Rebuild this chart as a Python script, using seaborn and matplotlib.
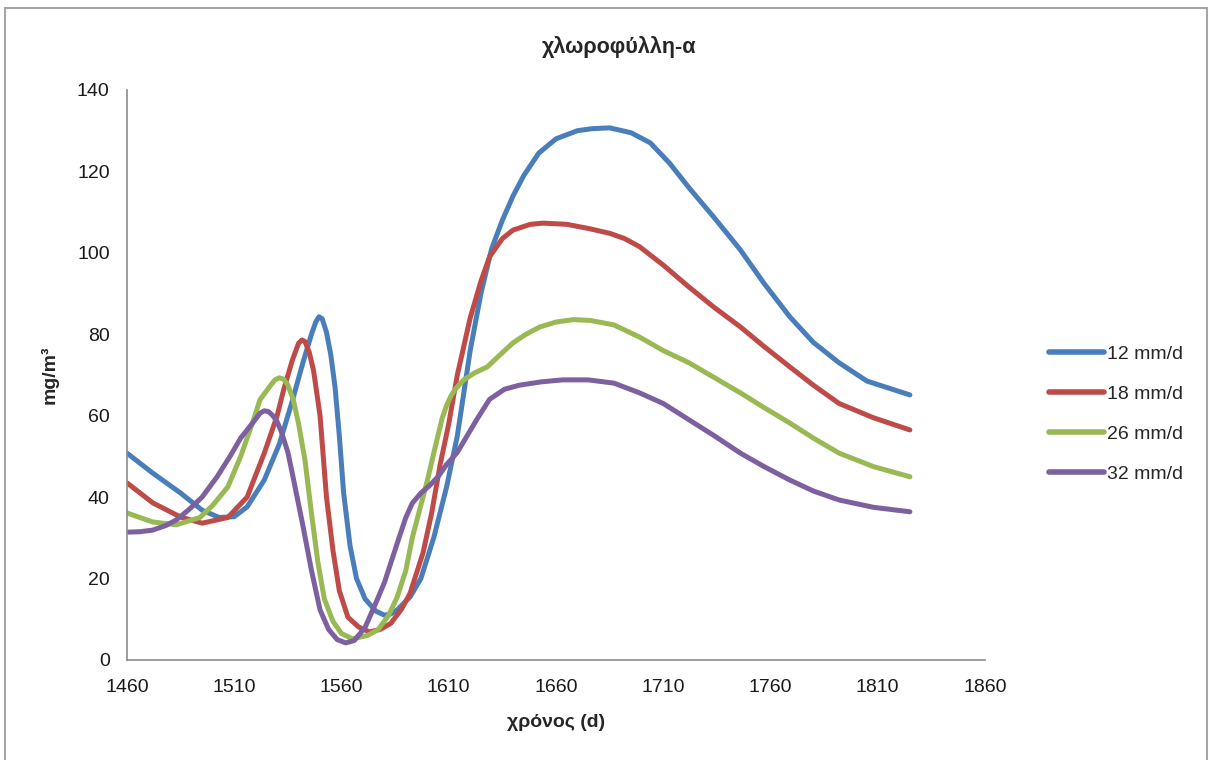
"""
Chlorophyll-a concentration over time for four inflow rates.
"""

import numpy as np
import pandas as pd
import matplotlib
matplotlib.use("Agg")
import matplotlib.pyplot as plt
import seaborn as sns
from matplotlib.patches import Rectangle

# values (days, mg/m3)
days_12 = [1460, 1472, 1485, 1495, 1503, 1510, 1516, 1524, 1531, 1537, 1542, 1546,
           1548, 1549.5, 1551, 1553, 1555, 1557, 1559, 1561, 1564, 1567, 1571, 1576,
           1580, 1583, 1586, 1592, 1597, 1603, 1609, 1614, 1620, 1625, 1630, 1635,
           1640, 1645, 1652, 1660, 1670, 1677, 1685, 1695, 1704, 1713, 1722, 1734,
           1746, 1757, 1769, 1780, 1792, 1805, 1825]
chl_12 = [50.8, 45.9, 41.0, 36.8, 35.0, 35.2, 37.6, 44.2, 53.0, 63.5, 73.0, 80.0,
          83.0, 84.3, 83.8, 80.5, 75.0, 67.0, 55.0, 41.0, 28.0, 20.0, 15.0, 12.0,
          11.0, 11.3, 12.3, 15.5, 20.0, 30.0, 42.5, 55.0, 76.0, 90.0, 101.0, 108.0,
          114.0, 119.0, 124.5, 128.0, 130.0, 130.5, 130.7, 129.5, 127.0, 122.0, 116.0, 108.5,
          100.7, 92.5, 84.3, 78.0, 73.0, 68.5, 65.1]

days_18 = [1460, 1472, 1485, 1495, 1507, 1516, 1524, 1530, 1533, 1537, 1540, 1541.6,
           1543, 1545, 1547, 1550, 1553, 1556, 1559, 1563, 1568, 1573, 1578, 1583,
           1588, 1592, 1598, 1602, 1606, 1610, 1614, 1620, 1625, 1629, 1635, 1640,
           1648, 1654, 1665, 1675, 1685, 1692, 1699, 1710, 1722, 1734, 1746, 1757,
           1769, 1780, 1792, 1808, 1825]
chl_18 = [43.5, 38.6, 35.1, 33.6, 35.0, 40.0, 50.8, 60.0, 66.3, 73.5, 77.8, 78.6,
          78.2, 75.5, 71.0, 60.0, 40.0, 27.0, 17.0, 10.5, 8.1, 6.9, 7.5, 9.0,
          12.5, 16.4, 26.3, 36.0, 48.0, 58.0, 70.0, 84.0, 93.0, 99.0, 103.5, 105.6,
          107.0, 107.3, 107.0, 106.0, 104.8, 103.5, 101.5, 97.0, 91.6, 86.5, 81.8, 77.0,
          72.0, 67.5, 63.0, 59.5, 56.5]

days_26 = [1460, 1472, 1483, 1494, 1500, 1507, 1513, 1516, 1519, 1522, 1527, 1529,
           1531, 1533, 1535, 1537.5, 1540, 1543, 1546, 1549, 1552, 1556, 1560, 1565,
           1572, 1577, 1582, 1586, 1590, 1593, 1597, 1600, 1604, 1607, 1609, 1611,
           1613, 1617, 1622, 1628, 1634, 1640, 1646, 1652.5, 1660, 1668, 1676, 1687,
           1699, 1710, 1722, 1734, 1746, 1757, 1769, 1780, 1792, 1808, 1825]
chl_26 = [36.1, 33.9, 33.2, 35.0, 38.0, 42.5, 50.0, 54.5, 59.0, 63.9, 67.5, 68.8,
          69.3, 69.0, 67.5, 64.0, 58.0, 49.0, 36.0, 24.0, 15.0, 9.5, 6.5, 5.2,
          6.0, 7.4, 11.0, 15.5, 22.0, 30.0, 38.0, 44.0, 53.0, 59.5, 62.5, 64.8,
          66.5, 68.8, 70.5, 72.0, 75.0, 77.9, 80.0, 81.8, 83.0, 83.6, 83.4, 82.3,
          79.3, 76.0, 73.0, 69.3, 65.6, 62.0, 58.2, 54.5, 50.8, 47.5, 45.0]

days_32 = [1460, 1466, 1472, 1478, 1483, 1489, 1495, 1502, 1508, 1513, 1519, 1522,
           1524, 1526, 1528, 1530, 1532, 1535, 1537, 1542, 1546, 1550, 1554, 1558,
           1562, 1566, 1571, 1576, 1580, 1587, 1590, 1593, 1597, 1601, 1605, 1609,
           1614, 1618.5, 1623, 1629, 1636, 1643, 1653, 1663, 1675, 1687, 1699, 1710,
           1722, 1734, 1746, 1757, 1769, 1780, 1792, 1808, 1825]
chl_32 = [31.4, 31.5, 31.9, 33.0, 34.4, 37.0, 40.0, 45.0, 50.0, 54.5, 58.5, 60.6,
          61.2, 61.0, 60.0, 58.5, 56.0, 51.0, 46.0, 33.0, 22.0, 12.3, 7.5, 5.0,
          4.2, 4.8, 8.0, 14.0, 19.0, 30.3, 35.0, 38.5, 41.0, 42.8, 45.0, 48.0,
          51.0, 55.0, 59.0, 64.0, 66.5, 67.5, 68.3, 68.8, 68.8, 68.0, 65.6, 63.0,
          59.0, 55.0, 50.8, 47.5, 44.2, 41.5, 39.3, 37.5, 36.4]

series_labels = ["12 mm/d", "18 mm/d", "26 mm/d", "32 mm/d"]
series_colors = ["#4A7EBB", "#BE4B48", "#98B954", "#7D60A0"]

x_ticks = np.arange(1460, 1861, 50)
y_ticks = np.arange(0, 141, 20)

# long table for seaborn
frames = []
for lab, d, c in zip(series_labels,
                     [days_12, days_18, days_26, days_32],
                     [chl_12, chl_18, chl_26, chl_32]):
    frames.append(pd.DataFrame({"day": d, "chl": c, "rate": lab}))
df = pd.concat(frames, ignore_index=True)

sns.set_style("white")
plt.rcParams['font.family'] = ['Liberation Sans', 'DejaVu Sans']

fig = plt.figure(figsize=(12.13, 7.6), dpi=100)
ax = fig.add_axes([0.1047, 0.1316, 0.7073, 0.75])

sns.lineplot(data=df, x="day", y="chl", hue="rate", hue_order=series_labels,
             palette=series_colors, estimator=None, sort=False,
             linewidth=3.6, ax=ax)
for ln in ax.get_lines():
    ln.set_solid_capstyle("round")
    ln.set_solid_joinstyle("round")

ax.set_xlim(1460, 1860)
ax.set_ylim(0, 140)
ax.set_xticks(x_ticks)
ax.set_yticks(y_ticks)
ax.tick_params(axis="both", length=0, labelsize=14, colors="#1a1a1a")
ax.tick_params(axis="x", pad=14)
ax.tick_params(axis="y", pad=12.5)

for side in ["top", "right"]:
    ax.spines[side].set_visible(False)
for side in ["left", "bottom"]:
    ax.spines[side].set_color("#8c8c8c")
    ax.spines[side].set_linewidth(1.2)

ax.set_xlabel("χρόνος (d)", fontsize=14, fontweight="bold", labelpad=13)
ax.set_ylabel("mg/m³", fontsize=14, fontweight="bold", labelpad=13)

fig.text(0.51, 0.938, "χλωροφύλλη-α", ha="center", va="center",
         fontsize=15.5, fontweight="bold")

sns.move_legend(ax, loc="center left", bbox_to_anchor=(1.065, 0.4315),
                frameon=False, title=None, fontsize=14,
                handlelength=2.85, labelspacing=1.15, handletextpad=0.15,
                borderaxespad=0)
for h in ax.get_legend().get_lines():
    h.set_linewidth(4)

# grey chart-area border
fig.patches.append(Rectangle((0.004, -0.01), 0.991, 0.999, transform=fig.transFigure,
                             fill=False, edgecolor="#a6a6a6", linewidth=1.5))

fig.savefig("out.png", dpi=100)
